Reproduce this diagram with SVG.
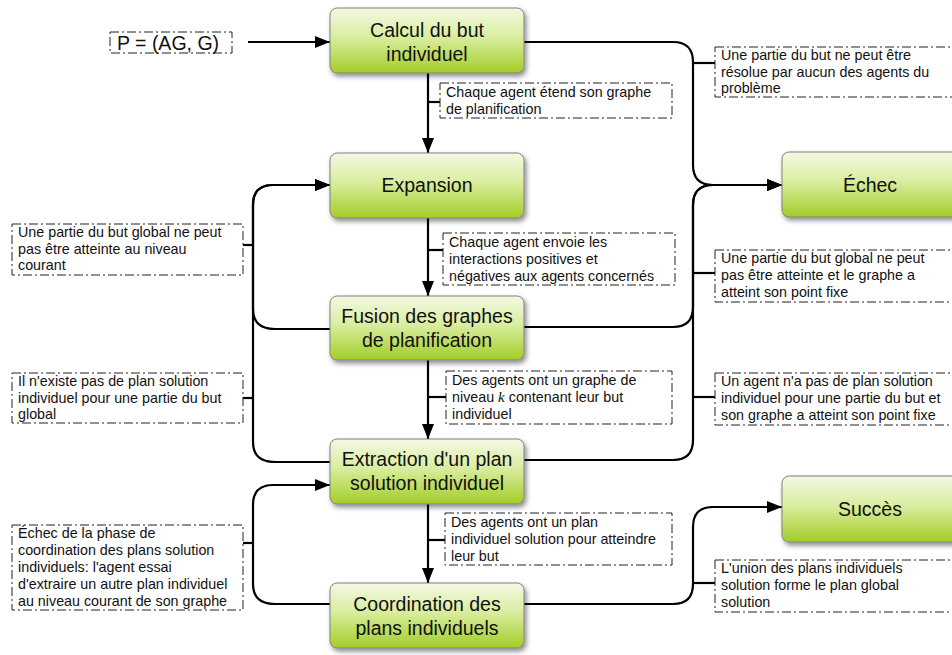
<svg xmlns="http://www.w3.org/2000/svg" width="952" height="655" viewBox="0 0 952 655">
<defs>
<linearGradient id="g" x1="0" y1="0" x2="0" y2="1">
<stop offset="0" stop-color="#f3f9e4"/>
<stop offset="0.45" stop-color="#d9ed9f"/>
<stop offset="1" stop-color="#a2cd27"/>
</linearGradient>
<filter id="sh" x="-10%" y="-20%" width="125%" height="150%">
<feDropShadow dx="2" dy="3" stdDeviation="2.5" flood-color="#000" flood-opacity="0.45"/>
</filter>
<marker id="arr" viewBox="0 0 15 12" refX="15" refY="6" markerWidth="15" markerHeight="12" orient="auto" markerUnits="userSpaceOnUse">
<path d="M0,0 L15,6 L0,12 z" fill="#000"/>
</marker>
</defs>
<style>
.node rect{fill:url(#g);stroke:#808080;stroke-width:1;filter:url(#sh)}
.nt{font-family:"Liberation Sans",Arial,sans-serif;font-size:19.5px;fill:#111;text-anchor:middle}
.lab rect{fill:#fff;stroke:#222;stroke-width:1;stroke-dasharray:9,3,2,3}
.lt{font-family:"Liberation Sans",Arial,sans-serif;font-size:14.3px;fill:#111}
.c path{fill:none;stroke:#000;stroke-width:2.2}
.c .a{marker-end:url(#arr)}
</style>
<rect width="952" height="655" fill="#fff"/>

<g id="connectors" class="c">
<path class="a" d="M248,42 H330"/>
<path class="a" d="M428,73 V153"/>
<path class="a" d="M428,218 V296"/>
<path class="a" d="M428,360 V439"/>
<path class="a" d="M428,504 V583"/>
<path class="a" d="M524,42 H673 Q693,42 693,62 V165 Q693,185 713,185 H782"/>
<path class="a" d="M524,327 H673 Q693,327 693,307 V205 Q693,185 713,185 H782"/>
<path class="a" d="M524,460 H673 Q693,460 693,440 V205 Q693,185 713,185 H782"/>
<path class="a" d="M330,329 H275 Q253,329 253,309 V205 Q253,185 273,185 H330"/>
<path class="a" d="M330,462 H275 Q253,462 253,442 V205 Q253,185 273,185 H330"/>
<path class="a" d="M330,604 H275 Q253,604 253,584 V505 Q253,485 273,485 H330"/>
<path class="a" d="M524,604 H673 Q693,604 693,584 V527 Q693,507 713,507 H782"/>
<path d="M428,102 H440"/>
<path d="M428,250 H443"/>
<path d="M428,397 H446"/>
<path d="M428,540 H445"/>
<path d="M693,63 H715"/>
<path d="M693,273 H715"/>
<path d="M693,397 H715"/>
<path d="M693,583 H715"/>
<path d="M243,245 H253"/>
<path d="M243,398 H253"/>
<path d="M243,543 H253"/>
</g>

<g id="n-calcul" class="node"><rect x="330" y="8" width="194" height="65" rx="7"/>
<text class="nt" x="427" y="37">Calcul du but</text><text class="nt" x="427" y="61">individuel</text></g>
<g id="n-expansion" class="node"><rect x="330" y="153" width="194" height="65" rx="7"/>
<text class="nt" x="427" y="192">Expansion</text></g>
<g id="n-fusion" class="node"><rect x="330" y="296" width="194" height="64" rx="7"/>
<text class="nt" x="427" y="323">Fusion des graphes</text><text class="nt" x="427" y="347">de planification</text></g>
<g id="n-extraction" class="node"><rect x="330" y="439" width="194" height="65" rx="7"/>
<text class="nt" x="427" y="466">Extraction d'un plan</text><text class="nt" x="427" y="490">solution individuel</text></g>
<g id="n-coordination" class="node"><rect x="330" y="583" width="194" height="65" rx="7"/>
<text class="nt" x="427" y="611">Coordination des</text><text class="nt" x="427" y="635">plans individuels</text></g>
<g id="n-echec" class="node"><rect x="782" y="152" width="190" height="65" rx="7"/>
<text class="nt" x="870" y="192">Échec</text></g>
<g id="n-succes" class="node"><rect x="782" y="476" width="190" height="66" rx="7"/>
<text class="nt" x="870" y="516">Succès</text></g>

<g id="l-p" class="lab"><rect x="110" y="32" width="122" height="21"/>
<text class="nt" x="117" y="50" style="text-anchor:start">P = (AG, G)</text></g>
<g id="l-calc" class="lab"><rect x="440" y="83" width="232" height="35"/>
<text class="lt" x="446" y="97">Chaque agent étend son graphe</text><text class="lt" x="446" y="114">de planification</text></g>
<g id="l-exp" class="lab"><rect x="443" y="233" width="232" height="52"/>
<text class="lt" x="449" y="247">Chaque agent envoie les</text><text class="lt" x="449" y="264">interactions positives et</text><text class="lt" x="449" y="281">négatives aux agents concernés</text></g>
<g id="l-fus" class="lab"><rect x="446" y="371" width="226" height="53"/>
<text class="lt" x="452" y="385">Des agents ont un graphe de</text><text class="lt" x="452" y="402">niveau <tspan style="font-family:'Liberation Serif',serif;font-style:italic;font-size:15px">k</tspan> contenant leur but</text><text class="lt" x="452" y="419">individuel</text></g>
<g id="l-ext" class="lab"><rect x="445" y="513" width="227" height="52"/>
<text class="lt" x="451" y="527">Des agents ont un plan</text><text class="lt" x="451" y="544">individuel solution pour atteindre</text><text class="lt" x="451" y="561">leur but</text></g>
<g id="l-r1" class="lab"><rect x="715" y="47" width="250" height="50"/>
<text class="lt" x="721" y="60">Une partie du but ne peut être</text><text class="lt" x="721" y="77">résolue par aucun des agents du</text><text class="lt" x="721" y="93">problème</text></g>
<g id="l-r2" class="lab"><rect x="715" y="250" width="250" height="52"/>
<text class="lt" x="721" y="263">Une partie du but global ne peut</text><text class="lt" x="721" y="280">pas être atteinte et le graphe a</text><text class="lt" x="721" y="297">atteint son point fixe</text></g>
<g id="l-r3" class="lab"><rect x="715" y="373" width="250" height="52"/>
<text class="lt" x="721" y="386">Un agent n'a pas de plan solution</text><text class="lt" x="721" y="403">individuel pour une partie du but et</text><text class="lt" x="721" y="420">son graphe a atteint son point fixe</text></g>
<g id="l-r4" class="lab"><rect x="715" y="560" width="250" height="52"/>
<text class="lt" x="721" y="573">L'union des plans individuels</text><text class="lt" x="721" y="590">solution forme le plan global</text><text class="lt" x="721" y="607">solution</text></g>
<g id="l-l1" class="lab"><rect x="12" y="224" width="231" height="51"/>
<text class="lt" x="18" y="237">Une partie du but global ne peut</text><text class="lt" x="18" y="254">pas être atteinte au niveau</text><text class="lt" x="18" y="270">courant</text></g>
<g id="l-l2" class="lab"><rect x="12" y="373" width="231" height="50"/>
<text class="lt" x="18" y="386">Il n'existe pas de plan solution</text><text class="lt" x="18" y="403">individuel pour une partie du but</text><text class="lt" x="18" y="419">global</text></g>
<g id="l-l3" class="lab"><rect x="12" y="525" width="231" height="85"/>
<text class="lt" x="18" y="538">Échec de la phase de</text><text class="lt" x="18" y="555">coordination des plans solution</text><text class="lt" x="18" y="572">individuels: l'agent essai</text><text class="lt" x="18" y="589">d'extraire un autre plan individuel</text><text class="lt" x="18" y="606">au niveau courant de son graphe</text></g>
</svg>
